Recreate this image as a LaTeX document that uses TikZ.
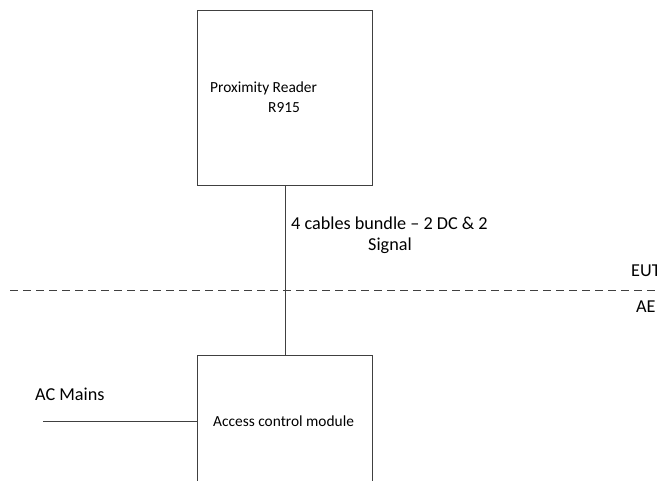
\documentclass[tikz,border=0pt]{standalone}
\usepackage{fontspec}
\setmainfont{Carlito}
\begin{document}
\begin{tikzpicture}[x=1pt,y=-1pt,
  box/.style={draw=black!75,line width=0.9pt,minimum width=175pt,inner sep=0pt,anchor=north west},
  wire/.style={draw=black!75,line width=0.9pt},
  lbl/.style={inner sep=0pt,anchor=base west,font=\fontsize{18.2}{21}\selectfont},
  sml/.style={inner sep=0pt,anchor=base west,font=\fontsize{15.4}{18}\selectfont}]
\useasboundingbox (0,0) rectangle (657,481);
\clip (0,0) rectangle (657,481);
\node[box,minimum height=175pt] (reader) at (197,10) {};
\node[box,minimum height=140pt] (acm) at (197,355) {};
\node[sml] (rt1) at (210,93) {Proximity Reader};
\node[sml] (rt2) at (268,113) {R915};
\node[sml] (at) at (213,427) {Access control module};
\draw[wire] (reader.south) -- (acm.north);
\node[lbl] (c1) at (291,230) {4 cables bundle -- 2 DC \& 2};
\node[lbl,anchor=base] (c2) at (390,251) {Signal};
\coordinate (acl) at (43,421);
\draw[wire] (acl) -- (acl -| acm.west);
\node[lbl] (ac) at (35,401) {AC Mains};
\coordinate (d1) at (10,290);
\coordinate (d2) at (660,290);
\draw[wire,dash pattern=on 8pt off 5pt] (d1) -- (d2);
\node[lbl] (eut) at (631,277) {EUT};
\node[lbl] (ae) at (636,313) {AE};
\end{tikzpicture}
\end{document}
